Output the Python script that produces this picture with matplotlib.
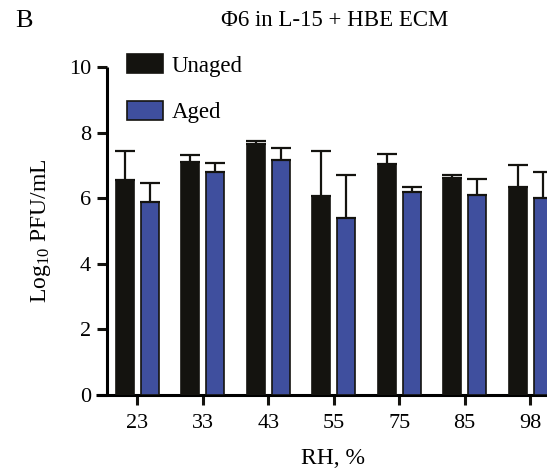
import matplotlib
matplotlib.use('Agg')
import matplotlib.pyplot as plt
import numpy as np

plt.rcParams['font.family'] = ['Liberation Serif', 'DejaVu Serif']
plt.rcParams['mathtext.fontset'] = 'custom'
plt.rcParams['mathtext.rm'] = 'Liberation Serif'
plt.rcParams['mathtext.it'] = 'Liberation Serif:italic'

rh = ['23', '33', '43', '55', '75', '85', '98']
unaged = [6.57, 7.11, 7.64, 6.07, 7.03, 6.62, 6.34]
unaged_sd = [0.87, 0.22, 0.11, 1.38, 0.32, 0.09, 0.68]
aged = [5.87, 6.81, 7.16, 5.40, 6.20, 6.11, 6.01]
aged_sd = [0.58, 0.25, 0.38, 1.30, 0.14, 0.47, 0.79]

black = '#14130f'
blue = '#3f4f9e'

fig = plt.figure(figsize=(5.47, 4.72), dpi=100)
# axes run past the right edge, so the last group is cut off
ax = fig.add_axes([96 / 547, 77 / 472, 475.5 / 547, 328 / 472])

x = np.arange(len(rh))
w = 0.275
off = 0.19
ekw = dict(elinewidth=1.6, capthick=1.6, ecolor=black, zorder=4)
ax.bar(x - off, unaged, w, color=black, edgecolor=black, linewidth=1.2,
       yerr=[np.zeros(len(x)), unaged_sd], capsize=7, error_kw=ekw,
       label='Unaged', zorder=3)
ax.bar(x + off, aged, w, color=blue, edgecolor=black, linewidth=1.2,
       yerr=[np.zeros(len(x)), aged_sd], capsize=7, error_kw=ekw,
       label='Aged', zorder=3)

ax.set_xlim(-0.63, 6.63)
ax.set_ylim(0, 10)
ax.set_xticks(x)
ax.set_xticklabels(rh)
ax.set_yticks([0, 2, 4, 6, 8, 10])

for s in ['top', 'right']:
    ax.spines[s].set_visible(False)
for s in ['left', 'bottom']:
    ax.spines[s].set_linewidth(2.2)
    ax.spines[s].set_capstyle('butt')
ax.spines['left'].set_position(('axes', 0.023))
ax.tick_params(axis='both', width=2.2, length=7.5, labelsize=16, color=black)
ax.tick_params(axis='x', pad=6)
ax.tick_params(axis='y', pad=4)

ax.set_ylabel('Log$_{10}$ PFU/mL', fontsize=17, labelpad=11)
fig.text(333 / 547, 1 - 458 / 472, 'RH, %', ha='center', va='center', fontsize=17)
fig.text(335 / 547, 1 - 20 / 472, '\u03a66 in L-15 + HBE ECM', ha='center', va='center', fontsize=16.5)
fig.text(15 / 547, 1 - 21 / 472, 'B', ha='left', va='center', fontsize=19)

ax.legend(loc='upper left', bbox_to_anchor=(127 / 547, 1 - 54 / 472),
          bbox_transform=fig.transFigure, frameon=False, fontsize=16.5,
          handlelength=1.55, handleheight=0.92, labelspacing=1.05,
          handletextpad=0.4, borderpad=0, borderaxespad=0)

fig.savefig('out.png', dpi=100)
